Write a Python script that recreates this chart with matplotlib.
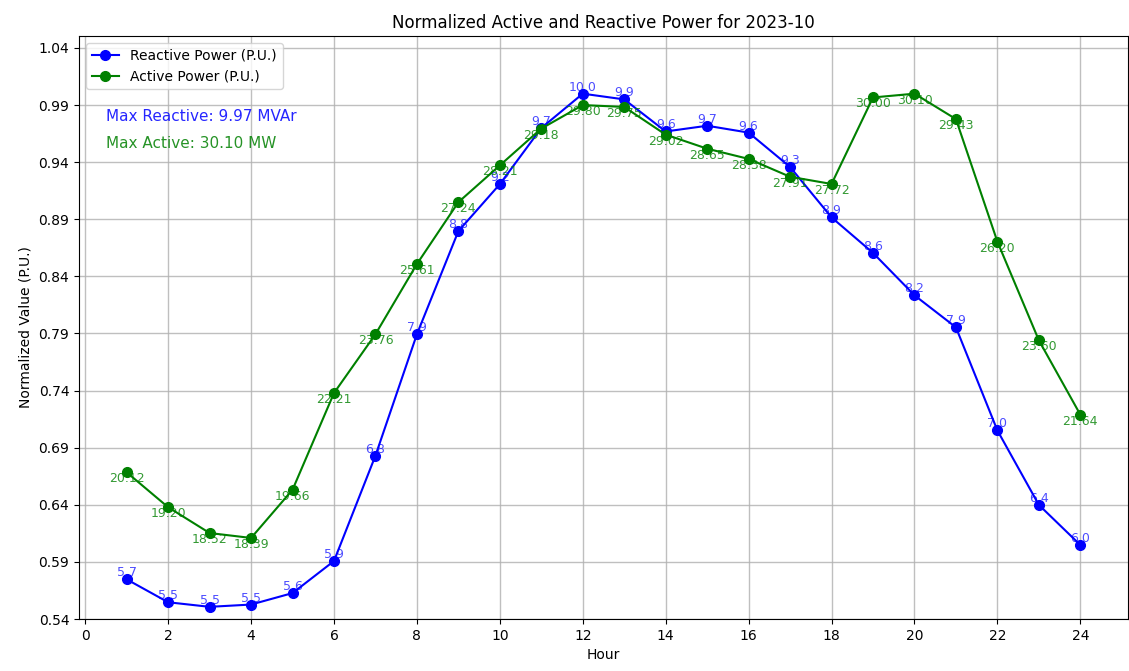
import matplotlib
matplotlib.use("Agg")
import matplotlib.pyplot as plt
import numpy as np

hours = list(range(1, 25))
reactive_mvar = [5.73, 5.53, 5.49, 5.51, 5.61, 5.89, 6.81, 7.87, 8.77, 9.18, 9.67, 9.97,
                 9.92, 9.64, 9.69, 9.63, 9.33, 8.89, 8.58, 8.21, 7.93, 7.03, 6.38, 6.03]
active_mw = [20.12, 19.20, 18.52, 18.39, 19.66, 22.21, 23.76, 25.61, 27.24, 28.21, 29.18, 29.80,
             29.75, 29.02, 28.65, 28.38, 27.91, 27.72, 30.00, 30.10, 29.43, 26.20, 23.60, 21.64]
ytick_vals = [0.54, 0.59, 0.64, 0.69, 0.74, 0.79, 0.84, 0.89, 0.94, 0.99, 1.04]

max_r = max(reactive_mvar)
max_a = max(active_mw)
r_pu = [v / max_r for v in reactive_mvar]
a_pu = [v / max_a for v in active_mw]

fig = plt.figure(figsize=(11.29, 6.71), dpi=100)
W, H = 1129, 671
ax = fig.add_axes([79 / W, (H - 619) / H, (1128 - 79) / W, (619 - 36) / H])

ax.plot(hours, r_pu, marker='o', markersize=7, color='blue', label='Reactive Power (P.U.)')
ax.plot(hours, a_pu, marker='o', markersize=7, color='green', label='Active Power (P.U.)')

for h, v, raw in zip(hours, r_pu, reactive_mvar):
    ax.text(h, v, f"{raw:.1f}", color='blue', alpha=0.7, fontsize=9, ha='center', va='bottom')
for h, v, raw in zip(hours, a_pu, active_mw):
    ax.text(h, v, f"{raw:.2f}", color='green', alpha=0.8, fontsize=9, ha='center', va='top')

ax.text(0.026, 0.862, f"Max Reactive: {max_r:.2f} MVAr", transform=ax.transAxes,
        color='blue', fontsize=11, va='center', alpha=0.85)
ax.text(0.026, 0.815, f"Max Active: {max_a:.2f} MW", transform=ax.transAxes,
        color='green', fontsize=11, va='center', alpha=0.85)

ax.set_ylim(0.54, 1.0505)
ax.set_yticks(ytick_vals)
ax.set_yticklabels([f"{v:.2f}" for v in ytick_vals])
ax.set_xlim(-0.15, 25.15)
ax.set_xticks(range(0, 25, 2))
ax.grid(True, color='#b0b0b0', linewidth=1.0, alpha=0.8)
ax.set_xlabel('Hour')
ax.set_ylabel('Normalized Value (P.U.)')
ax.set_title('Normalized Active and Reactive Power for 2023-10')
ax.legend(loc='upper left')

fig.savefig('out.png', dpi=100)
